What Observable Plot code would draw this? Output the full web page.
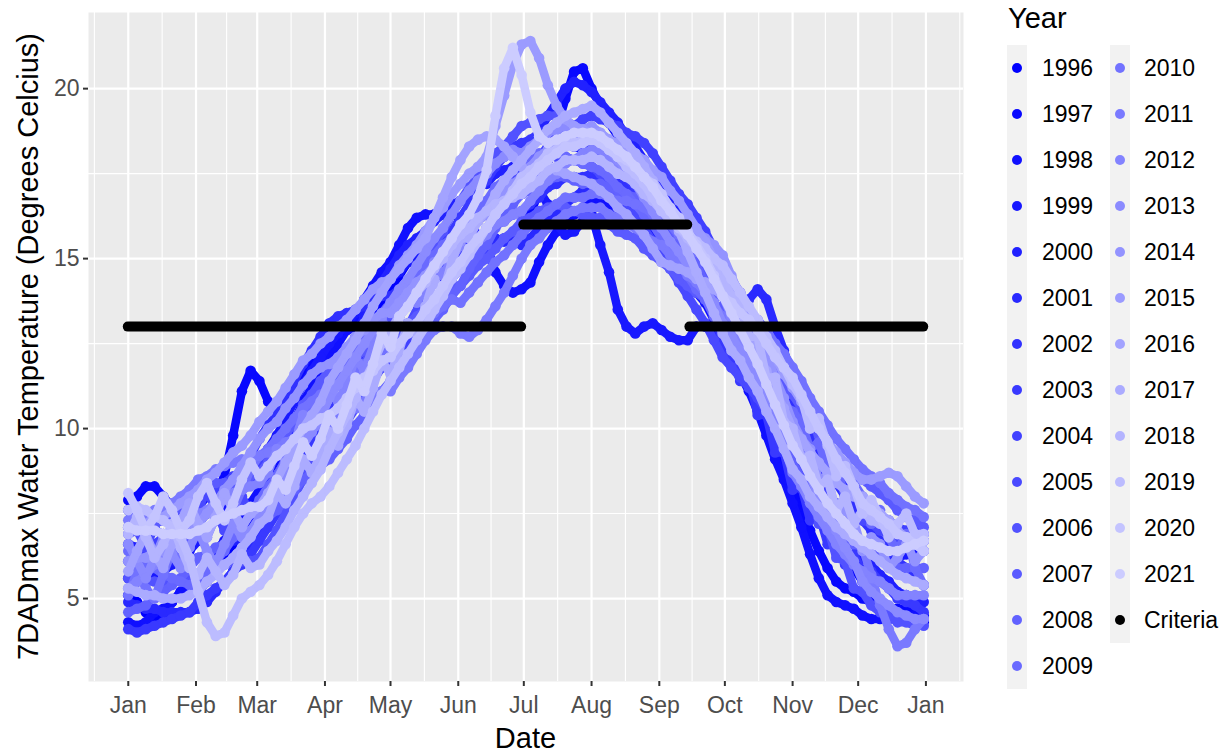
<!DOCTYPE html>
<html>
<head>
<meta charset="utf-8">
<script src="https://cdn.jsdelivr.net/npm/d3@7"></script>
<script src="https://cdn.jsdelivr.net/npm/@observablehq/plot@0.6"></script>
<style>
  body { margin: 0; background: #ffffff; }
  #wrap { position: relative; width: 1226px; height: 754px; font-family: "Liberation Sans", Arial, sans-serif; overflow: hidden; }
  #wrap svg { position: absolute; left: 0; top: 0; }
  .abs { position: absolute; white-space: nowrap; }
</style>
</head>
<body>
<div id="wrap"></div>
<script>
const years = [1996,1997,1998,1999,2000,2001,2002,2003,2004,2005,2006,2007,2008,2009,2010,2011,2012,2013,2014,2015,2016,2017,2018,2019,2020,2021];
const sampleStepDays = 4;

const y1996 = [5.1,4.9,4.6,4.4,4.5,4.9,5.2,5.2,5.2, 5.5,5.9,6.3,6.6,6.9,7.3,7.7, 8.1,8.6,9.1,9.8,10.1,10.5,11.0,11.4, 11.8,12.2,12.6,13.0,13.4,13.8,14.1, 14.5,14.9,15.0,15.1,15.3,15.6,15.8,16.0, 16.2,16.3,16.3,16.5,16.6,16.7,16.9, 17.2,17.5,17.9,18.2,18.4,18.3,18.2,18.2, 18.1,18.0,17.8,17.7,17.5,17.3,17.0,16.7, 16.4,16.0,15.7,15.3,15.0,14.5,14.1, 13.6,13.1,12.5,12.0,11.4,10.7,10.1,9.5, 9.0,8.3,7.8,7.3,6.8,6.3,5.9,5.5, 5.2,4.8,4.5,4.5,4.5,4.4,4.3];
const y1997 = [7.9,8.0,8.3,8.3,8.0,7.7,7.5,7.5,7.7, 8.0,8.1,8.6,9.8,11.1,11.7,11.4, 10.8,10.4,10.6,11.0,11.5,11.9,12.3,12.6, 12.8,12.9,13.0,13.1,13.2,13.3,13.4, 13.6,13.8,14.0,14.1,14.3,14.5,14.6,14.7, 14.9,15.1,15.2,15.5,15.6,15.7,15.9, 16.3,17.0,17.9,18.8,19.7,20.5,20.6,20.0, 19.5,19.0,18.6,18.2,17.9,17.5,17.1,16.7, 16.4,16.0,15.6,15.2,14.8,14.4,13.9, 13.3,12.6,11.9,11.2,10.4,9.6,8.9,8.2, 7.7,7.0,6.4,5.9,5.5,5.3,5.2,5.0, 4.9,4.8,4.7,4.7,4.7,4.6,4.4];
const y1998 = [4.3,4.2,4.3,4.6,4.7,4.9,5.2,5.4,5.7, 6.0,6.4,6.7,7.1,7.4,7.8,8.2, 8.7,9.1,9.7,10.2,10.8,11.2,11.7,12.1, 12.5,12.9,13.3,13.8,14.2,14.6,14.9, 15.4,15.9,16.2,16.3,16.3,16.3,16.3,16.2, 16.0,15.7,15.4,14.6,14.2,14.0,14.1, 14.3,14.9,15.4,15.8,16.1,16.3,16.5,16.7, 16.7,16.5,16.4,16.3,16.1,15.9,15.7,15.4, 15.1,14.7,14.4,14.0,13.7,13.2,12.8, 12.2,11.6,11.1,10.5,9.8,9.1,8.5,7.8, 7.1,6.3,5.6,5.1,4.9,4.8,4.7,4.5, 4.4,4.4,4.4,4.4,4.5,4.5,4.5];
const y1999 = [5.6,5.5,5.5,5.7,5.8,6.0,6.2,6.4,6.7, 7.0,7.3,7.6,7.9,8.2,8.5,9.0, 9.4,9.8,10.3,10.8,11.3,11.7,12.1,12.5, 12.8,13.1,13.4,13.6,13.9,14.2,14.4, 14.6,14.9,15.1,15.3,15.5,15.6,15.7,15.7, 16.0,16.2,16.4,16.6,16.8,17.0,17.2, 17.2,17.0,16.6,16.0,15.7,15.8,16.1,16.3, 15.4,14.6,13.5,13.0,12.8,13.0,13.1,12.9, 12.7,12.6,12.6,13.0,13.0,12.9,12.7, 12.4,12.0,11.7,11.3,10.8,10.3,9.8,9.3, 8.9,8.5,8.0,7.7,7.3,7.0,6.8,6.5, 6.3,6.3,6.2,6.2,6.3,6.4,6.4];
const y2000 = [6.6,6.5,6.3,6.2,6.1,6.1,6.1,6.1,6.2, 6.3,6.4,6.5,6.7,6.8,6.9,7.2, 7.7,8.1,8.7,9.3,9.8,10.3,10.7,11.2, 11.7,12.2,12.7,13.3,13.8,14.3,14.7, 15.1,15.4,15.6,15.8,16.1,16.3,16.6,16.7, 16.9,17.1,17.2,17.5,17.6,17.7,17.9, 18.3,18.7,19.2,19.6,20.0,20.2,20.1,19.9, 19.6,19.3,19.0,18.6,18.3,17.9,17.5,17.1, 16.7,16.4,16.0,15.7,15.3,14.9,14.4, 14.0,13.6,13.1,12.7,12.1,11.6,11.0,10.5, 9.9,9.2,8.6,8.0,7.5,7.1,6.6,6.2, 6.0,5.7,5.5,5.2,5.1,5.0,4.9];
const y2001 = [4.9,4.8,4.7,4.7,4.6,4.6,4.6,4.6,4.7, 4.9,5.2,5.5,5.8,6.2,6.6,7.0, 7.4,7.7,8.2,8.6,9.1,9.5,9.9,10.4, 10.8,11.1,11.5,12.0,12.5,13.0,13.4, 13.7,14.0,14.3,14.6,14.8,15.1,15.3,15.5, 15.5,15.6,15.5,15.6,15.5,15.5,15.4, 15.6,15.9,16.2,16.4,16.6,16.8,17.0,17.2, 17.2,17.0,16.8,16.7,16.5,16.3,16.0,15.9, 15.7,15.5,15.3,15.1,14.9,14.6,14.2, 13.8,13.7,13.8,14.1,13.8,13.0,12.3,11.5, 11.0,10.4,9.9,9.4,8.9,8.5,8.1,7.5, 7.3,7.1,7.0,6.8,6.8,6.8,6.7];
const y2002 = [7.1,7.0,7.0,7.0,6.9,6.9,6.9,7.0,7.2, 7.5,7.8,8.1,8.5,8.8,9.2,9.7, 10.1,10.4,10.9,11.4,11.9,12.3,12.7,13.1, 13.3,13.4,13.5,13.6,13.8,13.9,13.9, 14.1,14.3,14.5,14.7,14.9,15.1,15.3,15.2, 15.4,15.6,15.8,16.0,16.1,16.3,16.4, 16.6,16.8,17.1,17.2,17.4,17.4,17.4,17.5, 17.4,17.3,17.2,17.1,17.0,16.8,16.6,16.4, 16.2,16.0,15.7,15.5,15.3,15.1,14.8, 14.4,14.0,13.5,13.1,12.6,12.0,11.4,10.8, 10.3,9.8,9.3,8.9,8.4,8.0,7.7,7.3, 7.0,6.7,6.4,6.1,5.9,5.7,5.4];
const y2003 = [4.1,4.0,4.1,4.2,4.3,4.4,4.5,4.6,4.9, 5.1,5.3,5.5,5.8,6.0,6.3,6.7, 7.1,7.5,8.0,8.5,9.0,9.4,9.9,10.4, 10.8,11.1,11.5,11.8,12.2,12.6,12.9, 13.3,13.7,14.1,14.5,14.9,15.3,15.8,16.2, 16.6,17.0,17.3,17.7,18.0,18.3,18.4, 18.5,18.7,18.8,18.8,18.8,18.7,18.6,18.5, 18.3,18.0,17.7,17.4,17.1,16.7,16.3,15.9, 15.5,15.1,14.7,14.3,13.8,13.3,12.6, 12.1,11.4,11.5,10.4,10.4,9.3,9.3,8.2, 8.3,7.3,7.5,6.6,6.8,6.0,6.3,5.8, 5.8,5.5,5.3,5.0,4.9,4.8,4.6];
const y2004 = [6.1,6.3,6.4,6.6,6.8,7.0,7.3,7.5,7.9, 8.1,8.2,8.4,8.6,8.7,8.9,9.0, 9.1,9.3,9.5,9.7,9.9,10.1,10.2,10.4, 10.6,10.8,11.1,11.3,11.6,11.8,11.9, 12.2,12.6,12.9,13.3,13.6,14.0,14.4,14.7, 15.1,15.5,15.9,16.3,16.6,17.0,17.4, 17.7,18.0,18.3,18.5,18.7,18.9,19.1,19.2, 19.1,19.0,18.9,18.7,18.6,18.4,18.1,17.7, 17.3,16.9,16.6,16.2,15.8,15.3,14.8, 14.2,13.7,13.1,12.6,11.9,11.3,10.6,10.0, 9.7,9.3,9.0,8.7,8.4,8.2,8.0,7.8, 7.6,7.4,7.3,7.1,7.0,7.0,6.9];
const y2005 = [7.6,7.0,6.5,7.1,7.6,7.1,6.6,7.0,7.6, 8.2,7.6,7.0,7.4,8.0,7.5,7.7, 7.9,8.2,8.4,8.7,9.0,9.2,9.4,9.4, 9.8,10.2,10.6,11.0,11.4,11.8,12.1, 12.6,13.0,13.5,14.0,14.5,14.9,15.4,15.7, 16.1,16.4,16.6,17.0,17.2,17.5,17.7, 17.8,17.9,18.0,18.0,18.0,17.9,17.8,17.7, 17.5,17.2,16.9,16.6,16.3,15.9,15.5,15.1, 14.7,14.3,13.9,13.5,13.1,12.6,12.1, 11.8,11.5,11.2,10.9,10.5,10.1,9.7,9.5, 9.2,8.7,8.4,8.1,7.8,7.6,7.4,7.3, 7.2,7.0,6.9,6.7,6.7,6.7,6.7];
const y2006 = [5.6,5.5,5.5,5.5,5.5,5.5,5.5,5.6,5.7, 5.8,5.9,6.0,6.1,6.1,6.1,6.2, 6.6,7.0,7.5,8.0,8.5,8.9,9.3,9.9, 10.4,10.9,11.4,11.9,12.4,12.9,13.4, 13.8,14.2,14.6,15.0,15.4,15.8,16.3,16.7, 17.1,17.4,17.7,18.1,18.3,18.6,18.9, 19.0,19.1,19.2,19.2,19.1,18.9,18.8,18.7, 18.5,18.2,17.8,17.5,17.2,16.8,16.4,15.9, 15.7,15.4,15.2,14.9,14.7,14.4,14.1, 13.6,13.3,12.4,12.2,11.1,10.9,9.8,9.5, 8.5,8.3,7.2,7.1,6.2,6.1,5.3,5.2, 4.8,4.6,4.5,4.3,4.3,4.2,4.2];
const y2007 = [6.9,7.0,7.0,7.2,7.3,7.5,7.7,7.9,8.2, 8.3,8.4,8.4,8.4,8.5,8.6,8.7, 9.0,9.3,9.8,10.2,10.7,11.0,11.4,11.7, 11.8,12.0,12.1,12.3,12.5,12.6,12.6, 12.8,13.1,13.3,13.5,13.8,14.0,14.2,14.2, 14.5,14.8,15.0,15.3,15.6,15.8,16.1, 16.2,16.4,16.5,16.6,16.5,16.4,16.3,16.2, 16.2,16.0,15.8,15.7,15.6,15.3,15.1,14.9, 14.7,14.4,14.2,14.0,13.8,13.6,13.6, 13.3,13.0,12.7,12.4,12.0,11.6,11.3,11.0, 10.6,10.2,9.8,9.5,9.2,8.9,8.7,8.5, 8.3,8.1,7.9,7.6,7.4,7.3,7.1];
const y2008 = [4.6,4.7,4.8,5.1,5.2,5.4,5.6,5.9,6.2, 6.3,6.5,6.6,6.8,6.9,7.0,7.2, 7.4,7.6,7.9,8.2,8.5,8.7,8.9,9.1, 9.4,9.7,10.1,10.4,10.8,11.1,11.4, 11.8,12.1,12.4,12.8,13.2,13.5,13.9,14.2, 14.7,15.1,15.4,15.9,16.2,16.6,16.9, 17.0,17.2,17.3,17.4,17.4,17.3,17.2,17.2, 17.2,17.1,17.0,16.9,16.8,16.7,16.5,16.4, 16.0,15.6,15.2,14.8,14.3,13.8,13.1, 12.6,12.2,11.7,11.3,10.7,10.2,9.6,9.0, 8.5,8.1,7.7,7.3,7.0,6.8,6.6,6.5, 6.3,6.2,6.0,5.9,5.9,5.9,5.9];
const y2009 = [6.4,6.2,6.0,5.9,5.7,5.6,5.5,5.4,5.5, 5.8,6.1,6.4,6.8,7.1,7.5,7.9, 8.3,8.6,9.1,9.6,10.1,10.5,10.9,11.4, 11.7,12.1,12.4,12.7,13.1,13.4,13.7, 14.0,14.3,14.5,14.8,15.1,15.4,15.6,15.7, 16.1,16.4,16.7,17.1,17.3,17.6,17.9, 18.0,18.1,18.1,18.1,18.0,17.9,17.8,17.7, 17.6,17.4,17.1,16.9,16.6,16.3,16.0,15.6, 15.2,14.9,14.5,14.1,13.8,13.3,12.8, 12.6,12.3,12.1,11.8,11.5,11.1,10.7,10.5, 10.2,9.4,9.6,8.8,8.9,8.0,8.4,8.0, 7.2,7.6,6.8,6.4,6.9,5.9,5.4];
const y2010 = [5.1,5.8,5.3,5.0,5.7,6.4,6.0,6.5,7.2, 6.8,7.4,8.1,7.6,8.2,8.8,9.2, 9.4,9.7,10.0,10.3,10.6,10.8,11.0,11.1, 11.3,11.5,11.7,11.9,12.1,12.3,12.4, 12.6,12.8,13.0,13.2,13.4,13.6,13.8,13.7, 14.0,14.3,14.6,14.9,15.1,15.4,15.7, 16.0,16.2,16.4,16.6,16.8,16.8,16.8,16.9, 16.9,16.8,16.7,16.7,16.6,16.5,16.3,16.2, 16.0,15.7,15.5,15.2,15.0,14.7,14.4, 14.1,13.8,13.5,13.2,12.9,12.5,12.2,11.8, 11.4,10.9,10.5,10.1,9.7,9.4,9.1,8.8, 8.6,8.4,8.1,7.9,7.7,7.6,7.4];
const y2011 = [7.3,7.4,7.4,7.6,7.7,7.8,8.0,8.2,8.5, 8.6,8.8,8.9,9.0,9.1,9.1,9.2, 9.3,9.4,9.6,9.7,9.9,10.0,10.1,10.1, 10.3,10.4,10.6,10.8,10.9,11.1,11.1, 11.5,11.8,12.2,12.6,12.9,13.0,13.0,12.8, 12.7,12.9,13.2,13.6,14.0,14.5,15.0, 15.4,15.6,15.9,16.1,16.3,16.4,16.5,16.5, 16.5,16.3,16.2,16.0,15.9,15.7,15.5,15.4, 15.1,14.8,14.5,14.3,14.0,13.6,13.3, 12.9,12.5,12.1,11.6,11.1,10.6,10.1,9.5, 9.1,8.6,8.2,7.8,7.4,7.1,6.8,6.5, 5.7,4.8,4.1,3.6,3.7,4.1,4.4];
const y2012 = [5.3,5.5,5.7,6.0,6.2,6.5,6.8,7.1,7.5, 7.6,7.8,7.9,8.1,8.2,8.3,8.4, 8.7,9.4,9.1,9.6,10.4,10.0,10.5,11.2, 10.8,11.3,12.1,11.7,12.4,13.2,12.8, 13.4,14.1,13.7,14.2,14.9,14.5,15.0,15.4, 15.2,15.5,15.7,16.0,16.1,16.3,16.4, 16.7,17.0,17.3,17.5,17.8,17.9,18.1,18.2, 18.2,18.0,17.8,17.7,17.6,17.4,17.1,16.9, 16.5,16.2,15.8,15.4,15.0,14.5,13.9, 13.3,12.7,12.1,11.6,10.9,10.2,9.5,8.7, 8.3,7.8,7.4,7.0,6.6,6.3,6.0,5.8, 5.6,5.5,5.3,5.1,5.1,5.1,5.1];
const y2013 = [6.6,6.1,5.6,6.2,6.8,6.3,5.9,6.5,7.0, 6.4,6.0,6.6,7.2,6.8,7.0,7.4, 7.8,8.1,8.6,9.1,9.5,9.9,10.3,10.9, 11.3,11.7,12.1,12.5,12.9,13.3,13.7, 14.1,14.4,14.8,15.2,15.6,15.9,16.3,16.7, 17.0,17.3,17.5,17.8,18.0,18.2,18.1, 18.3,18.5,18.7,18.8,18.9,18.8,18.7,18.7, 18.5,18.2,17.9,17.6,17.2,16.8,16.4,15.9, 15.5,15.2,14.8,14.5,14.1,13.7,13.1, 12.7,12.3,11.9,11.6,11.1,10.7,10.2,9.8, 9.2,8.6,8.0,7.5,7.0,6.5,6.1,5.5, 5.2,5.0,4.8,4.6,4.5,4.4,4.4];
const y2014 = [6.1,6.2,6.2,6.4,6.4,6.6,6.8,6.9,7.2, 7.5,7.8,8.2,8.5,8.9,9.3,9.7, 10.0,10.2,10.6,10.9,11.3,11.6,11.8,11.9, 12.1,12.4,12.7,12.9,13.2,13.4,13.4, 13.7,14.0,14.3,14.5,14.8,15.1,15.3,15.5, 15.8,16.1,16.3,16.7,16.9,17.2,17.4, 17.7,18.0,18.2,18.4,18.6,18.7,18.8,18.9, 18.7,18.5,18.2,17.9,17.6,17.2,16.8,16.4, 16.3,16.1,16.0,15.8,15.6,15.4,15.1, 14.5,13.9,13.4,12.8,12.2,11.5,10.9,10.2, 9.7,9.4,8.5,8.6,7.5,7.6,7.3,6.4, 6.8,6.6,5.9,6.2,6.6,6.1,6.4];
const y2015 = [7.1,7.2,7.2,7.4,7.4,7.6,7.8,8.0,8.2, 8.5,8.7,9.0,9.3,9.5,9.8,10.2, 10.5,10.8,11.2,11.6,12.0,12.2,12.5,12.7, 13.0,13.2,13.5,13.8,14.1,14.3,14.4, 14.8,15.1,15.4,15.8,16.2,16.5,16.9,17.2, 17.5,17.7,18.0,18.9,19.8,20.7,21.3, 21.4,20.9,20.1,19.5,19.1,18.9,18.8,18.7, 18.7,18.5,18.4,18.2,18.1,17.9,17.6,17.4, 17.0,16.7,16.3,15.9,15.5,15.0,14.4, 14.0,13.7,13.3,13.0,12.5,12.1,11.6,11.2, 10.8,10.4,10.0,9.6,9.3,9.0,8.7,8.5, 8.5,8.6,8.7,8.6,8.3,8.0,7.8];
const y2016 = [5.8,6.4,6.9,6.3,5.9,6.6,7.3,7.8,7.2, 6.8,7.4,8.1,7.6,7.1,7.5,7.7, 8.1,8.5,9.0,9.5,10.0,10.4,10.8,11.4, 11.8,12.2,12.6,13.1,13.6,14.0,14.4, 14.7,15.0,15.3,15.6,16.2,16.8,17.4,17.9, 18.3,18.5,18.6,18.5,18.3,18.0,17.7, 17.5,17.6,17.7,17.6,17.5,17.4,17.3,17.2, 17.0,16.8,16.5,16.3,16.0,15.7,15.3,14.9, 14.8,14.7,14.6,14.4,14.3,14.1,13.9, 13.5,13.1,12.7,12.2,11.7,11.1,10.6,10.0, 9.7,9.3,9.0,8.7,8.4,8.2,8.0,8.0, 7.8,7.5,7.3,7.0,6.8,6.6,6.4];
const y2017 = [5.3,5.2,5.1,5.1,5.0,5.0,5.0,5.1,5.2, 5.5,5.7,6.0,6.2,6.5,6.8,7.2, 7.4,8.1,7.8,8.3,9.1,8.7,9.2,9.9, 9.5,10.1,10.9,10.5,11.2,12.0,11.6, 12.3,13.1,12.8,13.6,14.4,14.0,14.9,15.6, 15.6,16.1,16.4,16.9,17.3,17.6,17.9, 18.2,18.5,18.8,19.0,19.2,19.3,19.4,19.5, 19.3,19.0,18.7,18.4,18.1,17.7,17.3,16.9, 16.3,15.8,15.2,14.6,14.0,13.4,12.8, 12.3,12.0,11.5,11.1,10.5,10.0,9.4,8.8, 8.5,8.0,7.7,7.4,7.1,6.9,6.7,6.5, 6.3,6.1,5.9,5.7,5.6,5.5,5.4];
const y2018 = [6.9,7.4,6.8,6.2,6.6,7.2,6.5,5.9,5.7, 6.2,5.8,5.4,5.7,6.3,5.9,6.0, 6.4,6.7,7.1,7.6,8.0,8.4,8.8,9.4, 9.9,10.4,10.9,11.4,11.9,12.5,12.9, 13.3,13.6,14.0,14.3,14.7,15.0,15.4,15.7, 15.9,16.2,16.4,16.6,16.7,16.8,16.9, 17.1,17.3,17.6,17.7,17.9,17.9,17.9,18.0, 17.9,17.7,17.5,17.4,17.2,16.9,16.7,16.4, 16.1,15.9,15.6,15.3,15.1,14.7,14.4, 13.9,13.7,12.7,12.7,11.5,11.5,10.2,10.0, 9.1,9.2,8.3,8.5,7.6,8.0,7.2,7.6, 7.3,7.2,7.0,6.9,6.8,6.8,6.7];
const y2019 = [7.6,7.7,7.6,7.4,7.3,7.1,6.8,6.2,5.2, 4.3,3.9,4.0,4.5,5.0,5.2,5.4, 5.7,6.1,6.6,7.1,7.5,7.8,8.0,8.3, 8.7,9.1,9.5,10.0,10.5,11.0,11.4, 11.8,12.2,12.6,13.0,13.5,13.9,14.4,14.7, 15.1,15.5,15.9,16.3,16.6,17.0,17.4, 17.6,17.8,18.1,18.2,18.4,18.4,18.5,18.5, 18.4,18.2,18.0,17.7,17.5,17.2,16.8,16.4, 16.2,15.9,15.7,15.5,15.3,15.0,14.8, 14.4,14.0,13.6,13.2,12.7,12.3,11.8,11.3, 10.9,10.0,10.3,9.5,8.6,8.9,8.3,7.5, 7.9,7.4,6.8,7.2,7.5,6.9,6.9];
const y2020 = [8.1,7.6,7.0,7.4,8.0,7.6,7.0,7.3,8.0, 8.4,7.8,7.3,7.8,8.5,9.0,8.6, 8.9,9.2,9.4,9.7,10.0,10.1,10.3,10.4, 10.6,10.9,11.2,11.5,11.7,12.0,12.1, 12.5,12.8,13.1,13.5,13.8,14.2,14.6,14.9, 15.3,15.6,15.9,16.3,16.6,16.9,17.2, 17.4,17.7,17.9,18.1,18.3,18.3,18.4,18.5, 18.4,18.2,18.0,17.9,17.7,17.4,17.2,16.9, 16.5,16.2,15.8,15.4,15.0,14.5,13.9, 13.7,13.4,13.2,12.9,12.5,12.1,11.8,11.5, 11.0,10.5,10.0,9.6,9.1,8.7,8.3,7.8, 7.6,7.4,7.2,6.9,6.8,6.6,6.4];
const y2021 = [7.1,7.0,7.0,7.0,6.9,6.9,6.9,6.9,7.0, 7.1,7.3,7.4,7.5,7.6,7.7,7.7, 7.9,8.5,8.2,8.9,9.6,9.2,9.7,10.4, 10.0,10.7,11.5,11.1,11.9,12.8,12.4, 13.3,13.6,14.0,14.4,14.8,15.2,15.6,16.0, 16.3,16.8,17.6,19.2,20.6,21.2,20.4, 19.3,18.6,18.4,18.5,18.6,18.7,18.7,18.7, 18.6,18.4,18.2,18.0,17.7,17.4,17.1,16.7, 16.4,16.0,15.7,15.3,14.9,14.4,13.9, 13.4,12.9,12.4,11.9,11.3,10.7,10.1,9.5, 9.1,8.6,8.2,7.8,7.5,7.2,6.9,6.7, 6.6,6.5,6.4,6.4,6.5,6.6,6.7];

const yearSeries = [y1996,y1997,y1998,y1999,y2000,y2001,y2002,y2003,y2004,y2005,y2006,y2007,y2008,y2009,y2010,y2011,y2012,y2013,y2014,y2015,y2016,y2017,y2018,y2019,y2020,y2021];

// Criteria (step line)
const criteriaStart = ["01-01", "07-01", "09-15"];
const criteriaEnd   = ["06-30", "09-14", "12-31"];
const criteriaValue = [13, 16, 13];

// Axis ticks / labels
const monthNames = ["Jan","Feb","Mar","Apr","May","Jun","Jul","Aug","Sep","Oct","Nov","Dec"];
const yTicks = [5, 10, 15, 20];
const yMinor = [7.5, 12.5, 17.5];

// ---- build ----
const BASE = 2001;
const points = [];
years.forEach((yr, k) => {
  yearSeries[k].forEach((v, i) => {
    if (v != null) points.push({year: yr, date: new Date(Date.UTC(BASE, 0, 1 + sampleStepDays * i)), value: v});
  });
});
const criteria = criteriaValue.map((v, i) => ({
  start: new Date(`${BASE}-${criteriaStart[i]}T00:00:00Z`),
  end: new Date(`${BASE}-${criteriaEnd[i]}T00:00:00Z`),
  value: v
}));

const interp = d3.interpolateRgb("#0000FF", "#CCCCFF");
const yearColors = years.map((_, k) => interp(k / (years.length - 1)));

const monthTicks = d3.range(13).map(m => new Date(Date.UTC(BASE, m, 1)));
const extMonths = [new Date(Date.UTC(BASE - 1, 11, 1)), ...monthTicks, new Date(Date.UTC(BASE + 1, 1, 1))];
const minorX = d3.pairs(extMonths, (a, b) => new Date((+a + +b) / 2));

const x0 = Date.UTC(BASE, 0, 1), x1 = Date.UTC(BASE, 11, 31);
const pad = (x1 - x0) * 0.05;
const xDomain = [new Date(x0 - pad), new Date(x1 + pad)];
const yDomain = [2.56, 22.24];

// one layer per year (dot-width trail + dots), drawn in year order like the original
const yearMarks = years.flatMap(yr => {
  const pts = points.filter(d => d.year === yr);
  return [
    Plot.line(pts, {x: "date", y: "value", stroke: "year", strokeWidth: 8.5, strokeLinecap: "round", strokeLinejoin: "round"}),
    Plot.dot(pts, {x: "date", y: "value", fill: "year", r: 5.3})
  ];
});

const chart = Plot.plot({
  width: 1226,
  height: 754,
  marginLeft: 88,
  marginRight: 263,
  marginTop: 12,
  marginBottom: 73,
  style: {fontFamily: "'Liberation Sans', Arial, sans-serif", background: "transparent"},
  x: {type: "utc", domain: xDomain},
  y: {domain: yDomain},
  color: {type: "ordinal", domain: years, range: yearColors},
  marks: [
    Plot.frame({fill: "#EBEBEB", stroke: "none"}),
    Plot.ruleX(minorX.filter(d => d >= xDomain[0] && d <= xDomain[1]), {stroke: "#FFFFFF", strokeWidth: 1.1}),
    Plot.ruleY(yMinor, {stroke: "#FFFFFF", strokeWidth: 1.1}),
    Plot.ruleX(monthTicks, {stroke: "#FFFFFF", strokeWidth: 2.2}),
    Plot.ruleY(yTicks, {stroke: "#FFFFFF", strokeWidth: 2.2}),
    ...yearMarks,
    Plot.ruleY(criteria, {y: "value", x1: "start", x2: "end", stroke: "#000000", strokeWidth: 10, strokeLinecap: "round"}),
    Plot.axisX(monthTicks, {tickFormat: d => monthNames[d.getUTCMonth()], tickSize: 5, tickPadding: 10, fontSize: 23, fill: "#4D4D4D", stroke: "#333333", strokeWidth: 2, label: null}),
    Plot.axisY(yTicks, {tickSize: 5, tickPadding: 4, fontSize: 23, fill: "#4D4D4D", stroke: "#333333", strokeWidth: 2, label: null})
  ]
});

const wrap = document.getElementById("wrap");
wrap.appendChild(chart);

function addDiv(text, css) {
  const d = document.createElement("div");
  d.className = "abs";
  d.textContent = text;
  Object.assign(d.style, css);
  wrap.appendChild(d);
  return d;
}

// Axis titles
addDiv("Date", {left: "88px", top: "723.5px", width: "875px", textAlign: "center", fontSize: "29px", lineHeight: "29px", color: "#000"});
addDiv("7DADmax Water Temperature (Degrees Celcius)", {left: "-322px", top: "332px", width: "700px", height: "29px", textAlign: "center", fontSize: "29px", lineHeight: "29px", color: "#000", transform: "rotate(-90deg)", transformOrigin: "50% 50%"});

// Legend
addDiv("Year", {left: "1008px", top: "3.5px", fontSize: "29px", lineHeight: "29px", color: "#000"});
const legendLabels = years.map(String).concat(["Criteria"]);
const legendColors = yearColors.concat(["#000000"]);
const perCol = 14;
const colKeyX = [1007, 1110];
const colTextX = [1042, 1144];
const rowH = 46, top0 = 45;
[0, 1].forEach(c => {
  const n = Math.min(perCol, legendLabels.length - c * perCol);
  const bg = document.createElement("div");
  bg.className = "abs";
  Object.assign(bg.style, {left: colKeyX[c] + "px", top: top0 + "px", width: "20px", height: (n * rowH) + "px", background: "#F2F2F2"});
  wrap.appendChild(bg);
});
legendLabels.forEach((lab, i) => {
  const c = Math.floor(i / perCol), r = i % perCol;
  const cy = top0 + r * rowH + rowH / 2;
  const dot = document.createElement("div");
  dot.className = "abs";
  Object.assign(dot.style, {left: (colKeyX[c] + 10 - 5.3) + "px", top: (cy - 5.3) + "px", width: "10.6px", height: "10.6px", borderRadius: "50%", background: legendColors[i]});
  wrap.appendChild(dot);
  addDiv(lab, {left: colTextX[c] + "px", top: (top0 + r * rowH) + "px", height: rowH + "px", lineHeight: rowH + "px", fontSize: "23px", color: "#000"});
});
</script>
</body>
</html>
